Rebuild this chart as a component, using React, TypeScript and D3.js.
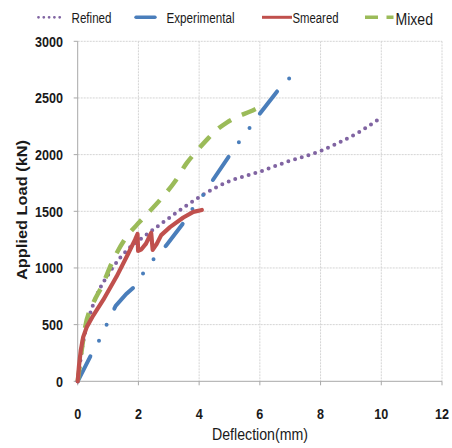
import React from "react";
import * as d3 from "d3";

const xTicks = [0, 2, 4, 6, 8, 10, 12];
const yTicks = [0, 500, 1000, 1500, 2000, 2500, 3000];

const refinedX = [0, 0.05, 0.15, 0.3, 0.6, 1.0, 1.17, 1.67, 2.2, 2.8, 3.5, 4.15, 4.9, 6.0, 6.9, 8.0, 8.6, 9.3, 9.97];
const refinedY = [0, 100, 300, 490, 740, 940, 1010, 1168, 1280, 1400, 1535, 1650, 1755, 1850, 1937, 2032, 2105, 2204, 2322];

const expX = [0, 0.49, 0.76, 0.99, 1.25, 1.6, 1.94, 2.22, 2.55, 2.91, 3.54, 3.83, 4.16, 4.47, 5.02, 5.35, 5.68, 6.01, 6.61, 6.99];
const expY = [0, 259, 385, 523, 665, 770, 851, 983, 1095, 1197, 1418, 1542, 1654, 1783, 2001, 2124, 2242, 2366, 2572, 2680];

const smearedX = [0, 0.04, 0.1, 0.18, 0.3, 0.51, 0.84, 1.28, 1.67, 1.89, 1.97, 1.99, 2.1, 2.25, 2.42, 2.47, 2.6, 2.75, 3.04, 3.48, 3.81, 4.09];
const smearedY = [0, 130, 270, 390, 480, 580, 718, 924, 1130, 1250, 1300, 1150, 1165, 1215, 1310, 1160, 1210, 1290, 1360, 1445, 1495, 1512];

const mixedX = [0, 0.05, 0.12, 0.24, 0.51, 0.79, 1.17, 1.61, 2.05, 2.71, 3.21, 3.59, 3.86, 4.25, 4.52, 4.91, 5.24, 5.68, 5.98];
const mixedY = [0, 100, 250, 470, 688, 835, 1071, 1275, 1409, 1600, 1765, 1925, 2013, 2130, 2204, 2283, 2331, 2380, 2418];

const FONT = "'Liberation Sans', Arial, sans-serif";

export default function App() {
  const W = 452, H = 448;
  const x = d3.scaleLinear().domain([0, 12]).range([77.7, 442]);
  const y = d3.scaleLinear().domain([0, 3000]).range([381.3, 41.3]);

  const mk = (xs: number[], ys: number[], curve: any) =>
    d3.line<number>().x((_, i) => x(xs[i])).y((_, i) => y(ys[i])).curve(curve)(xs) || "";

  const refinedPath = mk(refinedX, refinedY, d3.curveMonotoneX);
  const expPath = mk(expX, expY, d3.curveLinear);
  const smearedPath = mk(smearedX, smearedY, d3.curveLinear);
  const mixedPath = mk(mixedX, mixedY, d3.curveMonotoneX);

  const grid = "#d4d4d4";
  const axisC = "#a8a8a8";
  const digitW = 7;

  return (
    <svg width={W} height={H} style={{ position: "absolute", left: 0, top: 0, background: "#fff" }}>
      <rect x={0} y={0} width={W} height={H} fill="#fff" />
      {yTicks.filter(t => t > 0).map(t => (
        <line key={"gy" + t} x1={x(0)} x2={x(12)} y1={y(t)} y2={y(t)} stroke={grid} strokeWidth={1} strokeDasharray="2,1" />
      ))}
      {xTicks.filter(t => t > 0).map(t => (
        <line key={"gx" + t} x1={x(t)} x2={x(t)} y1={y(3000)} y2={y(0)} stroke={grid} strokeWidth={1} strokeDasharray="2,1" />
      ))}
      <line x1={x(0)} x2={x(0)} y1={y(3000)} y2={y(0)} stroke={axisC} strokeWidth={1} />
      <line x1={x(0)} x2={x(12)} y1={y(0)} y2={y(0)} stroke={axisC} strokeWidth={1} />
      {yTicks.map(t => (
        <line key={"ty" + t} x1={x(0) - 4} x2={x(0)} y1={y(t)} y2={y(t)} stroke={axisC} strokeWidth={1} />
      ))}
      {xTicks.map(t => (
        <line key={"tx" + t} x1={x(t)} x2={x(t)} y1={y(0)} y2={y(0) + 4} stroke={axisC} strokeWidth={1} />
      ))}
      {yTicks.map(t => (
        <text key={"ly" + t} x={63} y={y(t)} dy="0.36em" textAnchor="end" fontFamily={FONT} fontWeight="bold" fontSize={15} fill="#1a1a1a"
          textLength={String(t).length * digitW} lengthAdjust="spacingAndGlyphs">{t}</text>
      ))}
      {xTicks.map(t => (
        <text key={"lx" + t} x={x(t)} y={418.5} textAnchor="middle" fontFamily={FONT} fontWeight="bold" fontSize={15} fill="#1a1a1a"
          textLength={String(t).length * digitW} lengthAdjust="spacingAndGlyphs">{t}</text>
      ))}
      <text x={260} y={440} textAnchor="middle" fontFamily={FONT} fontSize={16} fill="#1a1a1a" textLength={96} lengthAdjust="spacingAndGlyphs">Deflection(mm)</text>
      <text transform="translate(26.5,210) rotate(-90)" textAnchor="middle" fontFamily={FONT} fontWeight="bold" fontSize={15} fill="#1a1a1a" textLength={140} lengthAdjust="spacingAndGlyphs">Applied Load (kN)</text>

      <path d={refinedPath} fill="none" stroke="#8064A2" strokeWidth={4} strokeLinecap="round" strokeDasharray="0,7" />
      <path d={expPath} fill="none" stroke="#4A7EBB" strokeWidth={4} strokeLinecap="round" strokeDasharray="28,17.8,0,17.8,0,17.8" />
      <path d={mixedPath} fill="none" stroke="#9BBB59" strokeWidth={4.5} strokeLinecap="butt" strokeDasharray="15,12" />
      <path d={smearedPath} fill="none" stroke="#C0504D" strokeWidth={4.2} strokeLinejoin="round" strokeLinecap="round" />

      <line x1={38.5} x2={65} y1={17.3} y2={17.3} stroke="#8064A2" strokeWidth={2.8} strokeLinecap="round" strokeDasharray="0,5.3" />
      <text x={71.5} y={22.7} fontFamily={FONT} fontSize={14} fill="#1a1a1a" textLength={40} lengthAdjust="spacingAndGlyphs">Refined</text>
      <line x1={136} x2={155} y1={17.3} y2={17.3} stroke="#4A7EBB" strokeWidth={3.4} strokeLinecap="round" />
      <text x={166.5} y={22.7} fontFamily={FONT} fontSize={14} fill="#1a1a1a" textLength={68} lengthAdjust="spacingAndGlyphs">Experimental</text>
      <line x1={262} x2={292} y1={17.3} y2={17.3} stroke="#C0504D" strokeWidth={3} />
      <text x={292.5} y={22.7} fontFamily={FONT} fontSize={14} fill="#1a1a1a" textLength={46} lengthAdjust="spacingAndGlyphs">Smeared</text>
      <line x1={365} x2={393.5} y1={17.3} y2={17.3} stroke="#9BBB59" strokeWidth={3.6} strokeDasharray="13,8.5" />
      <text x={395.5} y={25} fontFamily={FONT} fontSize={17} fill="#1a1a1a" textLength={37.5} lengthAdjust="spacingAndGlyphs">Mixed</text>
    </svg>
  );
}
